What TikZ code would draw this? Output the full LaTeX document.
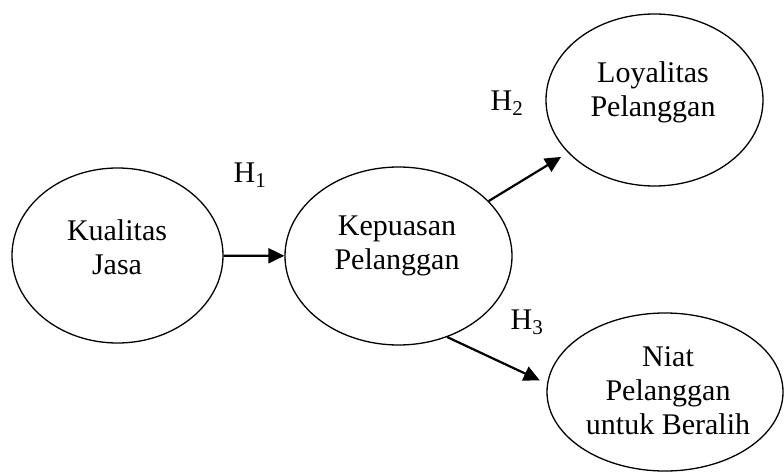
\documentclass[tikz,border=0pt]{standalone}
\usepackage{fontspec}
\setmainfont{Liberation Serif}
\usetikzlibrary{shapes.geometric,arrows.meta}
\begin{document}
\begin{tikzpicture}[x=1pt,y=-1pt,
  oval/.style={draw,ellipse,line width=1.3pt,inner sep=0pt},
  lbl/.style={align=center,font=\fontsize{30}{34}\selectfont,inner sep=0pt},
  hyp/.style={font=\fontsize{30}{34}\selectfont,inner sep=0pt},
  conn/.style={line width=2.2pt,-{Triangle[length=16pt,width=15pt]}}]
\useasboundingbox (0,0) rectangle (784,473);
\node[oval,minimum width=211pt,minimum height=175pt] (e1) at (117.5,255.5) {};
\node[oval,minimum width=227pt,minimum height=178pt] (e2) at (398.5,256) {};
\node[oval,minimum width=217pt,minimum height=172pt] (e3) at (654.5,100) {};
\node[oval,minimum width=236pt,minimum height=158pt] (e4) at (665,392) {};
\node[lbl] (t1) at (117,247) {Kualitas\\Jasa};
\node[lbl] (t2) at (397,246) {Kepuasan\\Pelanggan};
\node[lbl] (t3) at (653,92) {Loyalitas\\Pelanggan};
\node[lbl] (t4) at (668,391) {Niat\\Pelanggan\\untuk Beralih};
\draw[conn] (e1) -- (e2);
\draw[conn,shorten >=8pt] (e2) -- (e3);
\draw[conn,shorten >=8pt] (e2.-59) -- (e4.176);
\node[hyp] (h1) at (250,175) {H\textsubscript{1}};
\node[hyp] (h2) at (507,103) {H\textsubscript{2}};
\node[hyp] (h3) at (527,322) {H\textsubscript{3}};
\end{tikzpicture}
\end{document}
